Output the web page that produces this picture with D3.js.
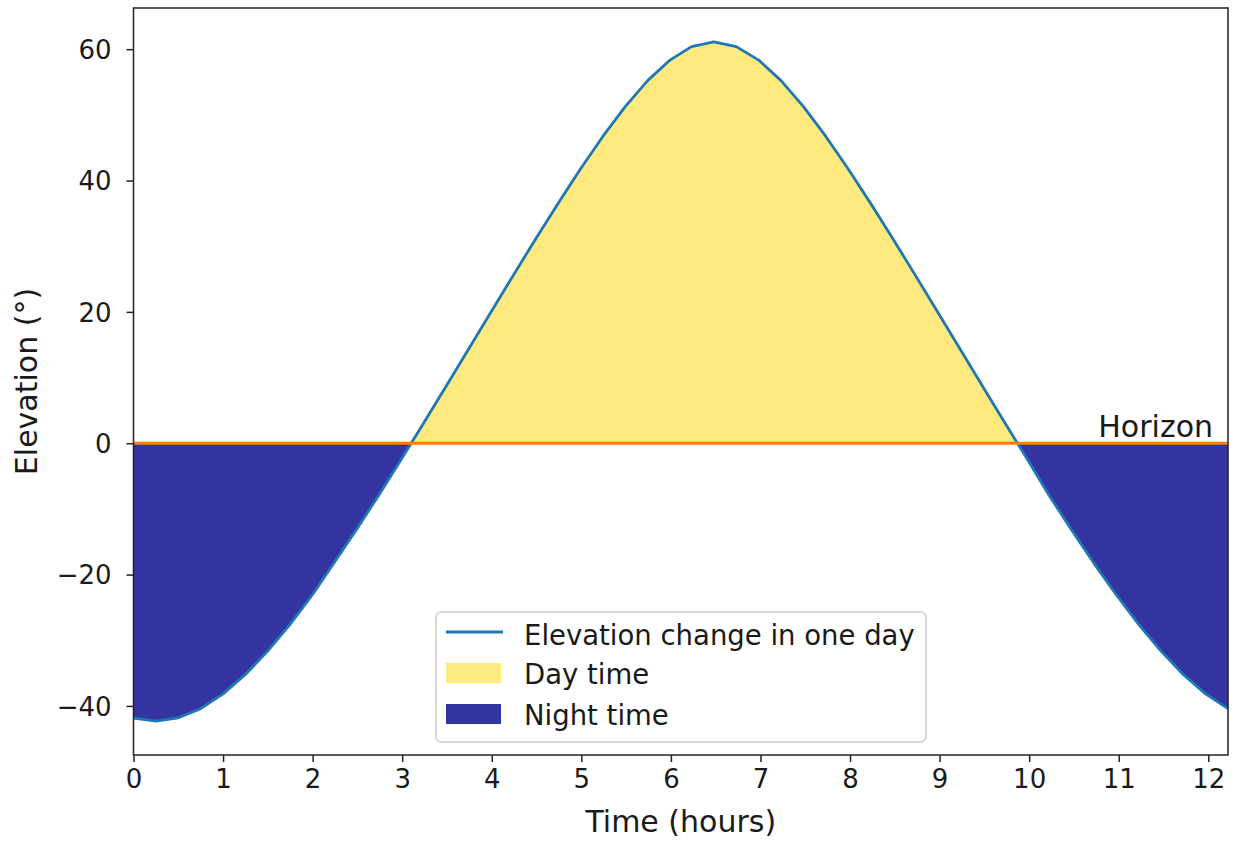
<!DOCTYPE html>
<html><head><meta charset="utf-8">
<script src="https://cdn.jsdelivr.net/npm/d3@7"></script>
<style>
body{margin:0;background:#fff}
text{font-family:"DejaVu Sans",sans-serif;fill:#1a1a1a}
</style>
</head><body>
<svg id="c" width="1238" height="841"></svg>
<script>
// ---- data ----
const hours = [0.00,0.25,0.50,0.75,1.00,1.25,1.50,1.75,2.00,2.24,2.49,2.74,2.99,3.24,3.49,3.74,3.99,4.24,4.49,4.74,
  4.99,5.24,5.49,5.74,5.99,6.23,6.48,6.73,6.98,7.23,7.48,7.73,7.98,8.23,8.48,8.73,8.98,9.23,9.48,9.73,
  9.98,10.22,10.47,10.72,10.97,11.22,11.47,11.72,11.97,12.22];
const elevation = [-41.84,-42.30,-41.81,-40.41,-38.17,-35.20,-31.62,-27.53,-23.03,-18.21,-13.14,-7.87,-2.45,3.07,8.67,14.31,19.95,25.56,31.10,36.52,
  41.76,46.71,51.25,55.21,58.34,60.39,61.10,60.39,58.34,55.21,51.25,46.71,41.76,36.52,31.10,25.56,19.95,14.31,8.67,3.07,
  -2.45,-7.87,-13.14,-18.21,-23.03,-27.53,-31.62,-35.20,-38.17,-40.41];
const horizon = 0;
const xTicks = [0,1,2,3,4,5,6,7,8,9,10,11,12];
const yTicks = [-40,-20,0,20,40,60];
const xDomain = [0, 12.22];
const yDomain = [-47.47, 66.27];
const legendLabels = ["Elevation change in one day","Day time","Night time"];
const labelX = "Time (hours)";
const labelY = "Elevation (°)";
const horizonLabel = "Horizon";

// ---- drawing ----
const svg = d3.select("#c");
const L = 133.5, R = 1228, T = 8, B = 755;
const x = d3.scaleLinear().domain(xDomain).range([L, R]);
const y = d3.scaleLinear().domain(yDomain).range([B, T]);
const data = hours.map((t,i)=>({t, e: elevation[i]}));

const defs = svg.append("defs");
defs.append("clipPath").attr("id","dayClip").append("rect")
  .attr("x",L).attr("y",T).attr("width",R-L).attr("height",y(horizon)-T);
defs.append("clipPath").attr("id","nightClip").append("rect")
  .attr("x",L).attr("y",y(horizon)).attr("width",R-L).attr("height",B-y(horizon));

const area = d3.area().x(d=>x(d.t)).y0(y(horizon)).y1(d=>y(d.e));
svg.append("path").datum(data).attr("d",area).attr("fill","#ffea80").attr("clip-path","url(#dayClip)");
svg.append("path").datum(data).attr("d",area).attr("fill","#3333a2").attr("clip-path","url(#nightClip)");

const line = d3.line().x(d=>x(d.t)).y(d=>y(d.e));
svg.append("path").datum(data).attr("d",line).attr("fill","none")
  .attr("stroke","#1f77b4").attr("stroke-width",2.8).attr("stroke-linejoin","round");

svg.append("line").attr("x1",x(xDomain[0])).attr("x2",x(xDomain[1]))
  .attr("y1",y(horizon)).attr("y2",y(horizon))
  .attr("stroke","#ff7f0e").attr("stroke-width",3);

svg.append("text").attr("x",1213).attr("y",437).attr("text-anchor","end")
  .attr("font-size",30).text(horizonLabel);

// axes
const xAxis = svg.append("g").attr("transform",`translate(0,${B})`)
  .call(d3.axisBottom(x).tickValues(xTicks).tickSize(7).tickSizeOuter(0));
xAxis.selectAll("text").attr("dy",null).attr("y",33).attr("font-size",26).attr("fill","#1a1a1a");
const yAxis = svg.append("g").attr("transform",`translate(${L},0)`)
  .call(d3.axisLeft(y).tickValues(yTicks).tickSize(7).tickSizeOuter(0).tickFormat(d=>d<0?"\u2212"+Math.abs(d):d));
yAxis.selectAll("text").attr("x",-22).attr("dy","0.36em").attr("font-size",26).attr("fill","#1a1a1a");
[xAxis,yAxis].forEach(g=>{
  g.select(".domain").remove();
  g.selectAll(".tick line").attr("stroke","#222").attr("stroke-width",1.5);
});

// frame
svg.append("rect").attr("x",L).attr("y",T).attr("width",R-L).attr("height",B-T)
  .attr("fill","none").attr("stroke","#222").attr("stroke-width",1.5);

// axis labels
svg.append("text").attr("x",(L+R)/2).attr("y",832).attr("text-anchor","middle")
  .attr("font-size",30).text(labelX);
svg.append("text").attr("transform",`translate(37,${(T+B)/2}) rotate(-90)`)
  .attr("text-anchor","middle").attr("font-size",30).text(labelY);

// legend
const lg = svg.append("g");
lg.append("rect").attr("x",436).attr("y",612).attr("width",490).attr("height",130)
  .attr("rx",5).attr("fill","#fff").attr("fill-opacity",0.8).attr("stroke","#cccccc").attr("stroke-width",1.5);
lg.append("line").attr("x1",446).attr("x2",503).attr("y1",632).attr("y2",632)
  .attr("stroke","#1f77b4").attr("stroke-width",2.8);
lg.append("rect").attr("x",446).attr("y",663).attr("width",55).attr("height",20).attr("fill","#ffea80");
lg.append("rect").attr("x",446).attr("y",704).attr("width",55).attr("height",20).attr("fill","#3333a2");
[645,684,725].forEach((yy,i)=>{
  lg.append("text").attr("x",524).attr("y",yy).attr("font-size",27.5).text(legendLabels[i]);
});
</script>
</body></html>
